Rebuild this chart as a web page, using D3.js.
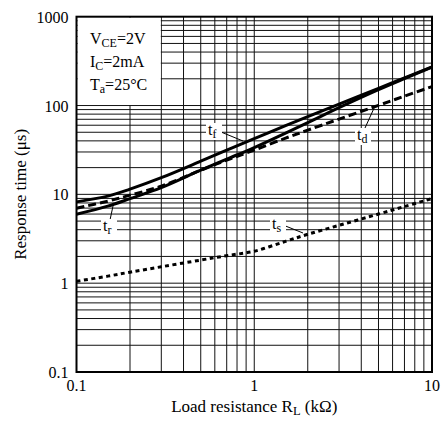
<!DOCTYPE html>
<html>
<head>
<meta charset="utf-8">
<script src="https://cdn.jsdelivr.net/npm/d3@7"></script>
<style>
body { margin: 0; background: #fff; }
text { font-family: "Liberation Serif", "Times New Roman", serif; }
</style>
</head>
<body>
<svg id="chart" width="442" height="423"></svg>
<script>
// Data
var rl = [0.1, 0.15, 0.2, 0.3, 0.5, 0.7, 1, 1.5, 2, 3, 5, 7, 10];
var tf = [8.23, 9.54, 11.45, 15.4, 23.6, 31.5, 42.4, 59.4, 75, 103.7, 156, 205, 273];
var tr = [5.98, 7.36, 8.95, 11.9, 18.7, 24.9, 33.6, 48.9, 64.2, 94.7, 151, 201, 270];
var td = [6.99, 8.38, 9.79, 12.37, 18.7, 24.3, 31.5, 42.9, 52.8, 70.3, 100.5, 127.6, 163.3];
var ts = [1.05, 1.2, 1.33, 1.53, 1.82, 2.04, 2.29, 2.96, 3.55, 4.48, 6.0, 7.3, 8.97];
var xTicks = [0.1, 1, 10];
var yTicks = [0.1, 1, 10, 100, 1000];

var svg = d3.select("#chart"),
    pLeft = 76.5, pRight = 432, pTop = 16.7, pBottom = 372;

var x = d3.scaleLog().domain([0.1, 10]).range([pLeft, pRight]);
var y = d3.scaleLog().domain([0.1, 1000]).range([pBottom, pTop]);

// grid values: every 1..9 multiple of each decade
var xGrid = [], yGrid = [];
[0.1, 1].forEach(function (d) { for (var i = 1; i <= 9; i++) xGrid.push(+(d * i).toPrecision(3)); });
[0.1, 1, 10, 100].forEach(function (d) { for (var i = 1; i <= 9; i++) yGrid.push(+(d * i).toPrecision(3)); });

var grid = svg.append("g");
grid.selectAll(".vx").data(xGrid).enter().append("line")
    .attr("x1", function (d) { return x(d); }).attr("x2", function (d) { return x(d); })
    .attr("y1", pTop).attr("y2", pBottom)
    .attr("stroke", "#111").attr("stroke-width", 1);
grid.selectAll(".hy").data(yGrid).enter().append("line")
    .attr("y1", function (d) { return y(d); }).attr("y2", function (d) { return y(d); })
    .attr("x1", pLeft).attr("x2", pRight)
    .attr("stroke", "#111").attr("stroke-width", 1);

// legend box blanks the grid in the upper-left cell
svg.append("rect")
    .attr("x", pLeft + 1).attr("y", pTop + 1)
    .attr("width", x(0.3) - pLeft - 1.5).attr("height", y(100) - pTop - 1.5)
    .attr("fill", "#fff");

var cond = svg.append("g").attr("font-size", 16);
var c1 = cond.append("text").attr("x", 90).attr("y", 44);
c1.append("tspan").text("V");
c1.append("tspan").attr("font-size", 12).attr("dy", 3).text("CE");
c1.append("tspan").attr("dy", -3).text("=2V");
var c2 = cond.append("text").attr("x", 90).attr("y", 67);
c2.append("tspan").text("I");
c2.append("tspan").attr("font-size", 12).attr("dy", 3).text("C");
c2.append("tspan").attr("dy", -3).text("=2mA");
var c3 = cond.append("text").attr("x", 90).attr("y", 90);
c3.append("tspan").text("T");
c3.append("tspan").attr("font-size", 12).attr("dy", 3).text("a");
c3.append("tspan").attr("dy", -3).text("=25°C");

// curves
var line = d3.line()
    .x(function (d) { return x(d[0]); })
    .y(function (d) { return y(d[1]); })
    .curve(d3.curveCatmullRom);

function curve(vals, dash) {
    svg.append("path")
        .datum(rl.map(function (r, i) { return [r, vals[i]]; }))
        .attr("d", line)
        .attr("fill", "none")
        .attr("stroke", "#000")
        .attr("stroke-width", 3)
        .attr("stroke-dasharray", dash);
}
curve(tf, null);
curve(tr, null);
curve(td, "8,4");
curve(ts, "4,3.5");

// curve labels with leader lines
function label(name, sub, tx, ty, lx1, ly1, lx2, ly2) {
    svg.append("line").attr("x1", lx1).attr("y1", ly1).attr("x2", lx2).attr("y2", ly2)
        .attr("stroke", "#000").attr("stroke-width", 1);
    svg.append("rect").attr("x", tx - 2).attr("y", ty - 12).attr("width", 16).attr("height", 17)
        .attr("fill", "#fff");
    var t = svg.append("text").attr("x", tx).attr("y", ty).attr("font-size", 16);
    t.append("tspan").text(name);
    t.append("tspan").attr("font-size", 12).attr("dy", 3).text(sub);
}
label("t", "f", 208, 135, 221, 132, 243, 141);
label("t", "d", 357, 140, 365, 128, 375, 106);
label("t", "r", 103, 231, 110, 220, 113, 206);
label("t", "s", 272, 229, 283, 225, 303, 233);

// frame
svg.append("rect")
    .attr("x", pLeft).attr("y", pTop)
    .attr("width", pRight - pLeft).attr("height", pBottom - pTop)
    .attr("fill", "none").attr("stroke", "#000").attr("stroke-width", 2);

// axes tick labels
var fmt = function (d) { return d < 1 ? String(d) : d3.format("d")(d); };
svg.append("g").attr("font-size", 16).attr("text-anchor", "end")
    .selectAll("text").data(yTicks).enter().append("text")
    .attr("x", pLeft - 8).attr("y", function (d) { return y(d) + 6; })
    .text(fmt);
svg.append("g").attr("font-size", 16).attr("text-anchor", "middle")
    .selectAll("text").data(xTicks).enter().append("text")
    .attr("x", function (d) { return x(d); }).attr("y", pBottom + 19)
    .text(fmt);

// axis titles
var xt = svg.append("text").attr("font-size", 17).attr("text-anchor", "middle")
    .attr("x", (pLeft + pRight) / 2).attr("y", 412);
xt.append("tspan").text("Load resistance R");
xt.append("tspan").attr("font-size", 12.5).attr("dy", 3).text("L");
xt.append("tspan").attr("dy", -3).text(" (kΩ)");

svg.append("text").attr("font-size", 17).attr("text-anchor", "middle")
    .attr("transform", "translate(26," + (pTop + pBottom) / 2 + ") rotate(-90)")
    .text("Response time (μs)");
</script>
</body>
</html>
